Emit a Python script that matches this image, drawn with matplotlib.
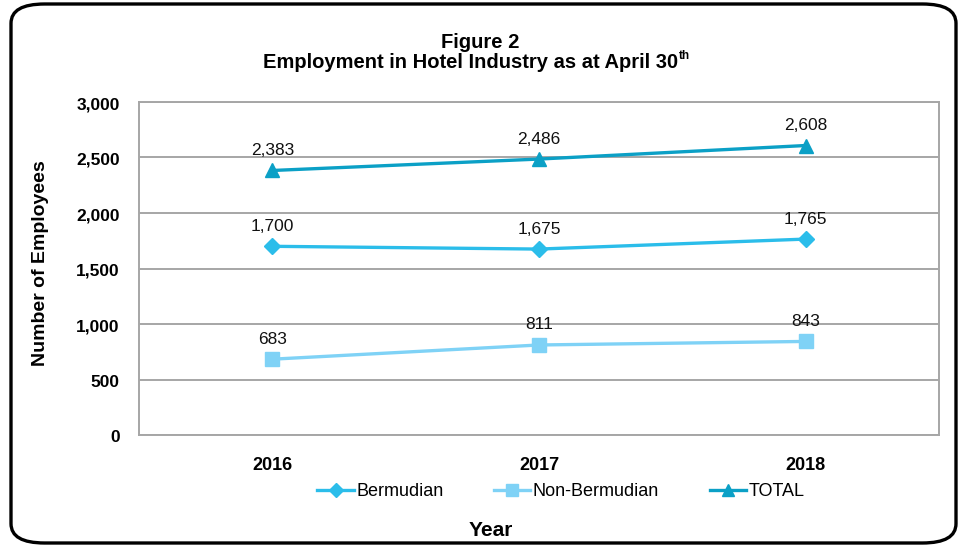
import matplotlib
matplotlib.use('Agg')
import matplotlib.pyplot as plt
import matplotlib.transforms as mtransforms
from matplotlib.patches import FancyBboxPatch

years = ['2016', '2017', '2018']
bermudian = [1700, 1675, 1765]
non_bermudian = [683, 811, 843]
total = [2383, 2486, 2608]
y_ticks = [0, 500, 1000, 1500, 2000, 2500, 3000]

plt.rcParams['font.family'] = ['Liberation Sans', 'DejaVu Sans']

W, H = 960, 552
fig = plt.figure(figsize=(9.6, 5.52), dpi=100)

# rounded outer frame
box = FancyBboxPatch((11 / W, 9 / H), 945 / W, 539 / H,
                     boxstyle='round,pad=0,rounding_size=0.035',
                     transform=fig.transFigure, fill=False,
                     edgecolor='black', linewidth=2.4)
fig.patches.append(box)

ax = fig.add_axes([139 / W, (H - 435) / H, 800 / W, 333 / H])

series = [
    ('Bermudian', bermudian, '#2BBDEA', 'D', 8),
    ('Non-Bermudian', non_bermudian, '#7FD2F6', 's', 9.5),
    ('TOTAL', total, '#0BA0C6', '^', 10),
]
x = list(range(len(years)))
for name, vals, col, mk, ms in series:
    ax.plot(x, vals, color=col, linewidth=2.4, marker=mk, markersize=ms,
            label=name)
    for xi, v in zip(x, vals):
        ax.annotate(f'{v:,}', (xi, v), xytext=(0, 9), textcoords='offset points',
                    ha='center', va='bottom', fontsize=12.5, color='#111111')

ax.set_xlim(-0.5, 2.5)
ax.set_ylim(0, 3000)
ax.set_yticks(y_ticks)
ax.set_yticklabels([f'{t:,}' for t in y_ticks], fontsize=12.5, fontweight='bold')
ax.set_xticks(x)
ax.set_xticklabels(years, fontsize=13, fontweight='bold')
ax.tick_params(axis='both', length=0)
ax.tick_params(axis='y', pad=14)
ax.tick_params(axis='x', pad=16)
ax.grid(axis='y', color='#A6A6A6', linewidth=1.4)
ax.set_axisbelow(True)
for s in ax.spines.values():
    s.set_color('#A6A6A6')
    s.set_linewidth(1.4)

# y tick labels sit a touch below the gridlines
off = mtransforms.ScaledTranslation(0, -1 / 72, fig.dpi_scale_trans)
for lbl in ax.get_yticklabels():
    lbl.set_transform(lbl.get_transform() + off)

fig.text(41 / W, 1 - 263 / H, 'Number of Employees', rotation=90,
         ha='center', va='center', fontsize=14, fontweight='bold')
fig.text(491 / W, 1 - 530 / H, 'Year', ha='center', va='center',
         fontsize=15, fontweight='bold')

fig.legend(loc='center', bbox_to_anchor=(561 / W, 1 - 492 / H), ncol=3,
           frameon=False, fontsize=13, handlelength=2.0, handletextpad=0.15,
           columnspacing=2.8, markerscale=0.85)

# title with superscript
fig.text(480 / W, 1 - 42 / H, 'Figure 2', ha='center', va='center',
         fontsize=14.5, fontweight='bold')
t = fig.text(471 / W, 1 - 62 / H, 'Employment in Hotel Industry as at April 30',
             ha='center', va='center', fontsize=14.5, fontweight='bold')
fig.canvas.draw()
bb = t.get_window_extent()
fig.text((bb.x1 + 0.5) / W, 1 - 56 / H, 'th', ha='left', va='center',
         fontsize=8.5, fontweight='bold')

fig.savefig('out.png', dpi=100)
